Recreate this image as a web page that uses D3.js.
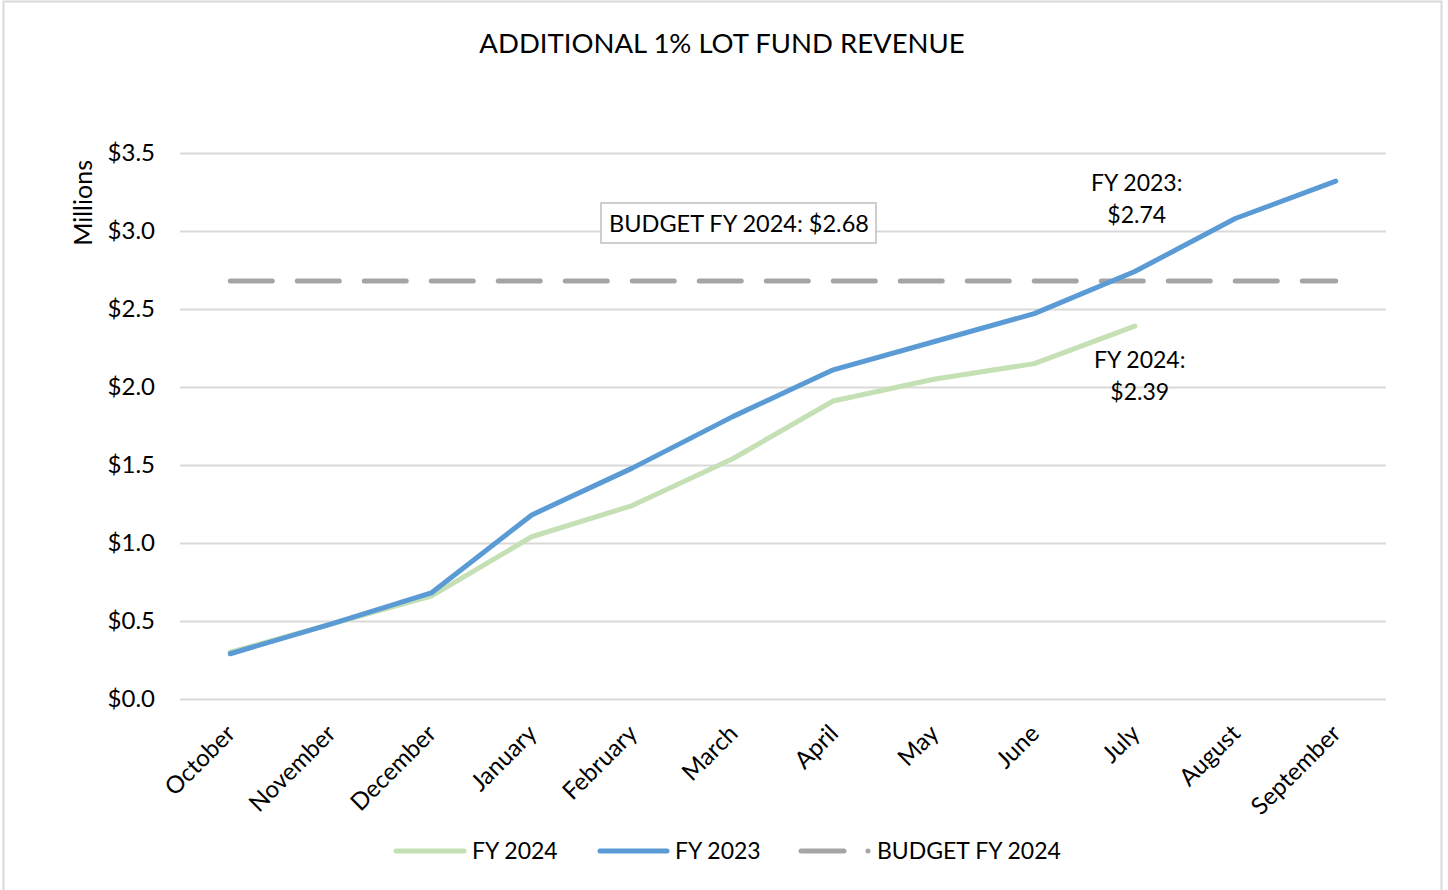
<!DOCTYPE html>
<html>
<head>
<meta charset="utf-8">
<script src="https://cdn.jsdelivr.net/npm/d3@7"></script>
<style>
    body { margin: 0; background: #fff; }
    text { font-family: Lato, "Open Sans", sans-serif; fill: #000; }
</style>
</head>
<body>
<div class="chart"></div>
<script>
// Data
const months = ['October', 'November', 'December', 'January', 'February', 'March',
    'April', 'May', 'June', 'July', 'August', 'September'];
const fy2023 = [0.29, 0.48, 0.68, 1.18, 1.48, 1.81, 2.11, 2.29, 2.47, 2.74, 3.08, 3.32];
const fy2024 = [0.30, 0.48, 0.66, 1.04, 1.24, 1.54, 1.91, 2.05, 2.15, 2.39];
const budget2024 = 2.68;
const yTicks = [0, 0.5, 1.0, 1.5, 2.0, 2.5, 3.0, 3.5];

const colors = { fy2024: '#c5e0b4', fy2023: '#5b9bd5', budget: '#a5a5a5' };

const svgWidth = 1448;
const svgHeight = 890;
const margin = { top: 153, right: 62, bottom: 191, left: 180 };
const width = svgWidth - margin.left - margin.right;
const height = svgHeight - margin.top - margin.bottom;

const svg = d3.select('.chart')
    .append('svg')
    .attr('width', svgWidth)
    .attr('height', svgHeight);

// outer frame
svg.append('rect')
    .attr('x', 3.5).attr('y', 1.5)
    .attr('width', 1438).attr('height', 895)
    .attr('fill', 'none')
    .attr('stroke', '#d9d9d9')
    .attr('stroke-width', 2);

svg.append('text')
    .attr('x', 722).attr('y', 53)
    .attr('text-anchor', 'middle')
    .style('font-size', '27.5px')
    .text('ADDITIONAL 1% LOT FUND REVENUE');

const g = svg.append('g')
    .attr('transform', 'translate(' + margin.left + ',' + margin.top + ')');

// Scales
const xScale = d3.scalePoint()
    .domain(months)
    .range([0, width])
    .padding(0.5);

const yScale = d3.scaleLinear()
    .domain([0, 3.5])
    .range([height, 0]);

// Gridlines + y axis
const yAxis = d3.axisLeft(yScale)
    .tickValues(yTicks)
    .tickFormat(d => '$' + d3.format('.1f')(d))
    .tickSizeInner(-width)
    .tickSizeOuter(0)
    .tickPadding(25);

const yAxisDraw = g.append('g').attr('class', 'y axis').call(yAxis);
yAxisDraw.select('.domain').remove();
yAxisDraw.selectAll('.tick line').attr('stroke', '#d9d9d9').attr('stroke-width', 2);
yAxisDraw.selectAll('.tick text')
    .style('font-size', '24px')
    .attr('fill', '#000');

g.append('text')
    .attr('transform', 'translate(-88,' + yScale(3.18) + ') rotate(-90)')
    .attr('text-anchor', 'middle')
    .style('font-size', '25px')
    .text('Millions');

// x axis labels
const xAxis = d3.axisBottom(xScale).tickSize(0).tickPadding(0);
const xAxisDraw = g.append('g')
    .attr('class', 'x axis')
    .attr('transform', 'translate(0,' + height + ')')
    .call(xAxis);
xAxisDraw.select('.domain').remove();
xAxisDraw.selectAll('.tick text')
    .style('font-size', '24px')
    .attr('fill', '#000')
    .attr('text-anchor', 'end')
    .attr('dy', 0)
    .attr('transform', 'translate(6,36) rotate(-45)');

// Budget dashed line
g.append('line')
    .attr('x1', xScale(months[0]))
    .attr('x2', xScale(months[months.length - 1]))
    .attr('y1', yScale(budget2024))
    .attr('y2', yScale(budget2024))
    .attr('stroke', colors.budget)
    .attr('stroke-width', 5)
    .attr('stroke-linecap', 'round')
    .attr('stroke-dasharray', '42,25');

const line = d3.line()
    .x((d, i) => xScale(months[i]))
    .y(d => yScale(d));

g.append('path')
    .datum(fy2024)
    .attr('d', line)
    .attr('fill', 'none')
    .attr('stroke', colors.fy2024)
    .attr('stroke-width', 5)
    .attr('stroke-linecap', 'round')
    .attr('stroke-linejoin', 'round');

g.append('path')
    .datum(fy2023)
    .attr('d', line)
    .attr('fill', 'none')
    .attr('stroke', colors.fy2023)
    .attr('stroke-width', 5)
    .attr('stroke-linecap', 'round')
    .attr('stroke-linejoin', 'round');

// Annotations
function addNote(x, y, lines) {
    const t = g.append('text')
        .attr('text-anchor', 'middle')
        .style('font-size', '23px');
    lines.forEach((s, i) => {
        t.append('tspan').attr('x', x).attr('y', y + i * 32).text(s);
    });
}
addNote(xScale('July') + 2, 38, ['FY 2023:', '$' + fy2023[9].toFixed(2)]);
addNote(xScale('July') + 5, 215, ['FY 2024:', '$' + fy2024[9].toFixed(2)]);

const boxG = g.append('g');
boxG.append('rect')
    .attr('x', 421).attr('y', 50)
    .attr('width', 275).attr('height', 40)
    .attr('fill', '#fff')
    .attr('stroke', '#bfbfbf')
    .attr('stroke-width', 1.5);
boxG.append('text')
    .attr('x', 559).attr('y', 79)
    .attr('text-anchor', 'middle')
    .style('font-size', '23.5px')
    .text('BUDGET FY 2024: $' + budget2024.toFixed(2));

// Legend
const legendItems = [
    { label: 'FY 2024', color: colors.fy2024, x: 396, len: 68, tx: 472, dash: false },
    { label: 'FY 2023', color: colors.fy2023, x: 600, len: 67, tx: 675, dash: false },
    { label: 'BUDGET FY 2024', color: colors.budget, x: 801, len: 43, tx: 877, dash: true }
];
const legend = svg.append('g').attr('transform', 'translate(0,851)');
legendItems.forEach(d => {
    legend.append('line')
        .attr('x1', d.x).attr('x2', d.x + d.len)
        .attr('y1', 0).attr('y2', 0)
        .attr('stroke', d.color)
        .attr('stroke-width', 5)
        .attr('stroke-linecap', 'round');
    if (d.dash) {
        legend.append('circle')
            .attr('cx', 868).attr('cy', 0).attr('r', 2.5)
            .attr('fill', d.color);
    }
    legend.append('text')
        .attr('x', d.tx)
        .attr('y', 8)
        .style('font-size', '23px')
        .text(d.label);
});
</script>
</body>
</html>
